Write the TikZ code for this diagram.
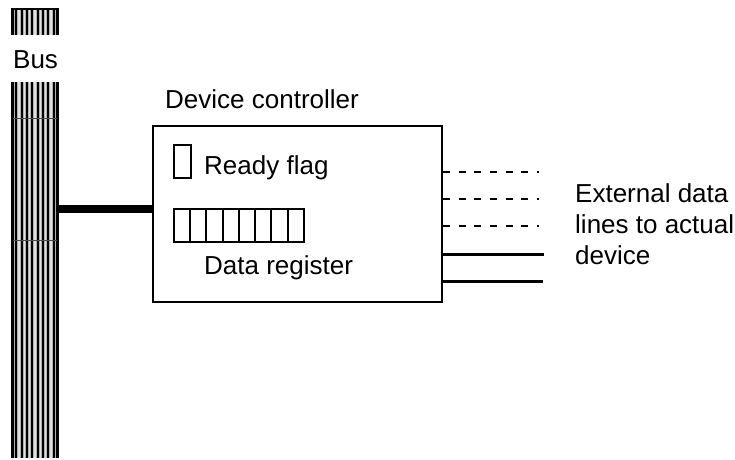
\documentclass[tikz,border=0pt]{standalone}
\usepackage{fontspec}
\setmainfont{Liberation Sans}
\begin{document}
\begin{tikzpicture}[x=1pt,y=-1pt,
  txt/.style={font=\fontsize{26}{31}\selectfont, inner sep=0pt, anchor=base west},
  boxline/.style={line width=2.2pt},
  cellline/.style={line width=2pt},
  extdash/.style={line width=2.4pt, dash pattern=on 7pt off 8.6pt},
  extsolid/.style={line width=3pt},
  busline/.style={line width=8pt}]
\useasboundingbox (0,0) rectangle (735,459);
% ---- bus (two striped segments) ----
\foreach \ya/\yb in {8/35, 82/458}{
  \fill[gray!60] (11,\ya) rectangle (59,\yb);
  \foreach \k in {0,...,8}{
    \draw[gray!25, line width=1.3pt] (13.7+\k*5.33,\ya) -- (13.7+\k*5.33,\yb);
  }
  \foreach \k in {1,...,8}{
    \draw[black, line width=1.8pt] (11+\k*5.33,\ya) -- (11+\k*5.33,\yb);
  }
  \draw[black, line width=2.8pt] (12.2,\ya) -- (12.2,\yb);
  \draw[black, line width=2.8pt] (57.8,\ya) -- (57.8,\yb);
}
\draw[black, line width=2pt] (11,9) -- (59,9);
\draw[black!70, line width=0.8pt] (13,118) -- (57,118);
\draw[black!70, line width=0.8pt] (13,240) -- (57,240);
\coordinate (busR) at (59,209);
\node[txt] (bus) at (13,68) {Bus};
% ---- controller ----
\node[txt] (title) at (165,108) {Device controller};
\node[draw, boxline, minimum width=289pt, minimum height=176pt, inner sep=0pt] (ctrl) at (297.5,214) {};
\draw[busline] (busR) -- (busR -| ctrl.west);
% ready flag
\node[draw, cellline, minimum width=17pt, minimum height=33pt, inner sep=0pt] (flag) at (182.5,161) {};
\node[txt] (flagtxt) at (204,174) {Ready flag};
% data register
\foreach \k in {0,...,7}{
  \node[draw, cellline, minimum width=16.25pt, minimum height=33pt, inner sep=0pt] (reg\k) at (182.1+\k*16.25,225.5) {};
}
\node[txt] (regtxt) at (204,274) {Data register};
% ---- external lines ----
\coordinate (e1) at (539,172);
\coordinate (e2) at (539,199);
\coordinate (e3) at (539,226);
\coordinate (e4) at (544,254);
\coordinate (e5) at (543,281);
\draw[extdash] (e1 -| ctrl.east) -- (e1);
\draw[extdash] (e2 -| ctrl.east) -- (e2);
\draw[extdash] (e3 -| ctrl.east) -- (e3);
\draw[extsolid] (e4 -| ctrl.east) -- (e4);
\draw[extsolid] (e5 -| ctrl.east) -- (e5);
\node[txt] (ext1) at (575,202) {External data};
\node[txt] (ext2) at (575,233) {lines to actual};
\node[txt] (ext3) at (575,264) {device};
\end{tikzpicture}
\end{document}
